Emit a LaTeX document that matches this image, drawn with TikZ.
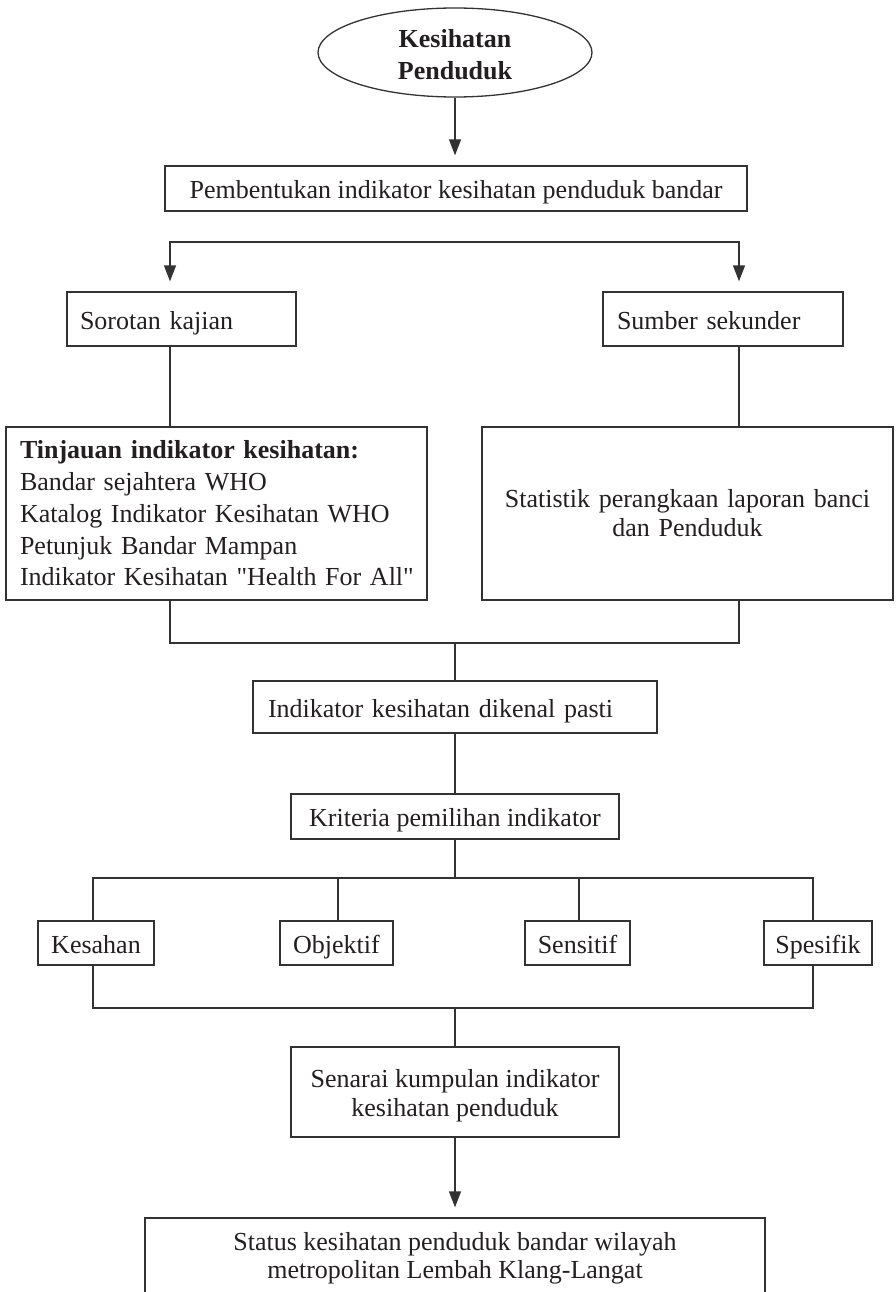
\documentclass[tikz,border=0pt]{standalone}
\usepackage{fontspec}
\setmainfont{Liberation Serif}[Ligatures=TeXOff]
\usetikzlibrary{arrows.meta,shapes.geometric}
\definecolor{ln}{HTML}{333333}
\definecolor{tx}{HTML}{231F20}
\begin{document}
\begin{tikzpicture}[x=1pt,y=-1pt,
  every node/.style={font=\fontsize{26}{31}\selectfont, text=tx},
  box/.style={draw=ln, line width=1.3pt, inner sep=0pt, align=center},
  one/.style={text height=24pt, text depth=4pt},
  conn/.style={draw=ln, line width=1.3pt, line cap=rect},
  arr/.style={draw=ln, line width=1.3pt, -{Triangle[length=16pt,width=12pt]}, shorten >=10pt}]
\path[use as bounding box, clip] (0,0) rectangle (895,1292);

\node[ellipse, box, minimum width=274pt, minimum height=89pt, font=\bfseries\fontsize{26}{32}\selectfont] (kp) at (455,52.5) {\rule{0pt}{22pt}Kesihatan\\Penduduk};
\node[box, one, minimum width=582pt, minimum height=45pt] (pb) at (456,188.5) {Pembentukan indikator kesihatan penduduk bandar};
\node[box, one, text width=203pt, inner xsep=13pt, minimum height=54pt, align=left] (sor) at (181.5,319) {Sorotan kajian};
\node[box, one, text width=212pt, inner xsep=14pt, minimum height=54pt, align=left] (sum) at (723,319) {Sumber sekunder};
\node[box, text width=393pt, inner xsep=14pt, minimum height=173pt, align=left, font=\fontsize{26}{31.7}\selectfont] (tin) at (216.5,513.5) {\mbox{\textbf{Tinjauan indikator kesihatan:}}\\\mbox{Bandar sejahtera WHO}\\\mbox{Katalog Indikator Kesihatan WHO}\\\mbox{Petunjuk Bandar Mampan}\\\mbox{Indikator Kesihatan "Health For All"}};
\node[box, text width=380pt, inner xsep=15.5pt, minimum height=173pt, font=\fontsize{26}{29}\selectfont] (sta) at (687.5,513.5) {\mbox{Statistik perangkaan laporan banci}\\dan Penduduk};
\node[box, one, text width=374pt, inner xsep=15pt, minimum height=52pt, align=left] (ind) at (455,707) {Indikator kesihatan dikenal pasti};
\node[box, one, minimum width=328pt, minimum height=45pt] (kri) at (455,816.5) {Kriteria pemilihan indikator};
\node[box, one, minimum width=116pt, minimum height=44pt] (kes) at (96,943) {Kesahan};
\node[box, one, minimum width=113pt, minimum height=44pt] (obj) at (336.5,943) {Objektif};
\node[box, one, minimum width=105pt, minimum height=44pt] (sen) at (577.5,943) {Sensitif};
\node[box, one, minimum width=108pt, minimum height=44pt] (spe) at (818,943) {Spesifik};
\node[box, minimum width=328pt, minimum height=90pt, font=\fontsize{26}{29}\selectfont] (sk) at (455,1092) {\rule{0pt}{26pt}Senarai kumpulan indikator\\kesihatan penduduk};
\node[box, minimum width=620pt, minimum height=80pt, font=\fontsize{26}{28}\selectfont] (stt) at (455,1258) {Status kesihatan penduduk bandar wilayah\\metropolitan Lembah Klang-Langat};

\draw[arr] (kp.south) -- (kp.south |- pb.north);
\coordinate (sl) at (170,242);
\coordinate (sr) at (739,242);
\draw[conn] (sl) -- (sr);
\draw[arr] (sl) -- (sl |- sor.north);
\draw[arr] (sr) -- (sr |- sum.north);
\draw[conn] (sor.south -| sl) -- (sl |- tin.north);
\draw[conn] (sum.south -| sr) -- (sr |- sta.north);
\coordinate (jm) at (455,643);
\draw[conn] (sl |- tin.south) |- (jm) -| (sr |- sta.south);
\draw[conn] (jm) -- (ind.north);
\draw[conn] (ind.south) -- (kri.north);
\coordinate (ct) at (455,878);
\coordinate (ctl) at (93,878);
\coordinate (cto) at (338,878);
\coordinate (cts) at (579,878);
\coordinate (ctr) at (813,878);
\draw[conn] (kri.south) -- (ct);
\draw[conn] (ctl) -- (ctr);
\draw[conn] (ctl) -- (ctl |- kes.north);
\draw[conn] (cto) -- (cto |- obj.north);
\draw[conn] (cts) -- (cts |- sen.north);
\draw[conn] (ctr) -- (ctr |- spe.north);
\coordinate (cb) at (455,1008);
\coordinate (cbl) at (93,1008);
\coordinate (cbr) at (813,1008);
\draw[conn] (cbl |- kes.south) -- (cbl) -- (cbr) -- (cbr |- spe.south);
\draw[conn] (cb) -- (sk.north);
\draw[arr] (sk.south) -- (stt.north);
\end{tikzpicture}
\end{document}
